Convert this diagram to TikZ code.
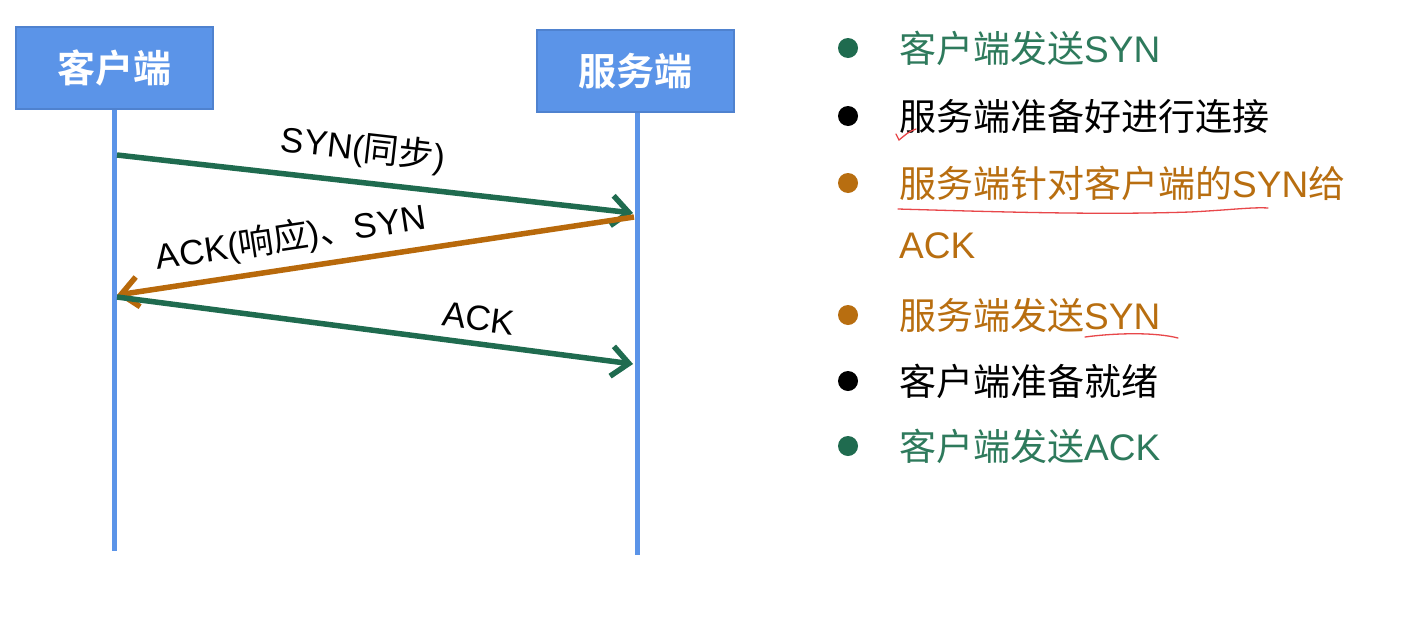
\documentclass[tikz,border=0pt]{standalone}
\usepackage{fontspec}
\setmainfont{Liberation Sans}
\newfontfamily\cjk{Noto Sans CJK SC}
\newfontfamily\cjkbf{Noto Sans CJK SC Bold}
\usetikzlibrary{arrows.meta}
\definecolor{boxblue}{HTML}{5B94E8}
\definecolor{boxborder}{HTML}{4F82CF}
\definecolor{arrgreen}{HTML}{1F6B4F}
\definecolor{txtgreen}{HTML}{2E7A5C}
\definecolor{arrorange}{HTML}{B8690B}
\definecolor{txtorange}{HTML}{B86E10}
\definecolor{redpen}{HTML}{E8474A}
\begin{document}
\begin{tikzpicture}[x=1pt,y=-1pt,
  actor/.style={draw=boxborder, fill=boxblue, line width=1.5pt, minimum width=197pt, minimum height=82pt, inner sep=0pt, text=white, font=\cjkbf\fontsize{38}{40}\selectfont},
  lifeline/.style={draw=boxblue, line width=5pt},
  msg/.style={line width=5.5pt, -{Straight Barb[length=17pt,width=30pt]}},
  lbl/.style={font=\fontsize{35}{38}\selectfont, text=black, sloped, inner sep=0pt},
  item/.style={anchor=west, font=\fontsize{37}{40}\selectfont, inner sep=0pt},
  dot/.style={circle, inner sep=0pt, minimum size=20pt},
  pen/.style={draw=redpen, line width=1.3pt, line cap=round}
]
\useasboundingbox (0,0) rectangle (1416,627);
\fill[white] (0,0) rectangle (1416,627);

% actors
\node[actor] (client) at (114.5,68) {客户端};
\node[actor] (server) at (635.5,71) {服务端};

% lifelines
\coordinate (cend) at (114,551);
\coordinate (send) at (637,555);
\draw[lifeline] (client.south -| cend) -- (cend);
\draw[lifeline] (server.south -| send) -- (send);

% message points
\coordinate (a1) at (117,155);
\coordinate (b1) at (633,213);
\coordinate (b2) at (634,217);
\coordinate (a2) at (117,295);
\coordinate (a3) at (117,297);
\coordinate (b3) at (633,364);

\draw[msg, draw=arrgreen] (a1) -- node[lbl, pos=0.47, above=12pt] {SYN({\cjk 同步})} (b1);
\draw[msg, draw=arrorange] (b2) -- node[lbl, pos=0.655, above=9pt] {ACK({\cjk 响应}){\cjk 、}SYN} (a2);
\draw[msg, draw=arrgreen] (a3) -- node[lbl, pos=0.695, above=10pt] {ACK} (b3);

% bullet list
\node[dot, fill=arrgreen] (d1) at (848,48) {};
\node[item, text=txtgreen] (t1) at (899,48) {{\cjk 客户端发送}SYN};
\node[dot, fill=black] (d2) at (848,116) {};
\node[item, text=black] (t2) at (899,116) {{\cjk 服务端准备好进行连接}};
\node[dot, fill=txtorange] (d3) at (848,183) {};
\node[item, text=txtorange] (t3) at (899,183) {{\cjk 服务端针对客户端的}SYN{\cjk 给}};
\node[item, text=txtorange] (t3b) at (899,246) {ACK};
\node[dot, fill=txtorange] (d5) at (848,315) {};
\node[item, text=txtorange] (t5) at (899,315) {{\cjk 服务端发送}SYN};
\node[dot, fill=black] (d6) at (848,381) {};
\node[item, text=black] (t6) at (899,381) {{\cjk 客户端准备就绪}};
\node[dot, fill=arrgreen] (d7) at (848,446) {};
\node[item, text=txtgreen] (t7) at (899,446) {{\cjk 客户端发送}ACK};

% red pen marks
\draw[pen] (896,134) -- (899,140) .. controls (904,136) and (909,131) .. (916,129);
\draw[pen] (898,209) .. controls (1000,212) and (1100,215) .. (1190,212) .. controls (1230,210) and (1252,207) .. (1268,208);
\draw[pen] (1085,337) .. controls (1115,333) and (1155,332) .. (1178,338);
\end{tikzpicture}
\end{document}
